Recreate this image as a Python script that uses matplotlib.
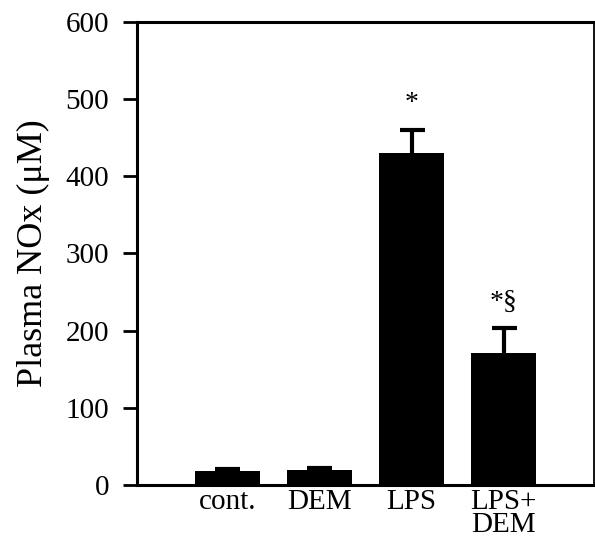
"""Plasma NOx bar chart."""
import matplotlib
matplotlib.use("Agg")
import matplotlib.pyplot as plt

plt.rcParams["font.family"] = ["Liberation Serif", "DejaVu Serif"]

groups = ["cont.", "DEM", "LPS", "LPS+\nDEM"]
nox = [18.5, 19.5, 430, 171]
nox_err = [2.5, 2.5, 30, 32]
marks = ["", "", "*", "*§"]
mark_y = [0, 0, 494, 236]

fig = plt.figure(figsize=(5.95, 5.48), dpi=100)
ax = fig.add_axes([0.2303, 0.115, 0.768, 0.845])

x = list(range(len(groups)))
tops = [v + e for v, e in zip(nox, nox_err)]
ax.vlines(x, nox, tops, color="black", lw=3, zorder=1)
ax.plot(x, tops, ls="none", marker="_", ms=18, mew=3, color="black", zorder=1)
ax.bar(x, nox, width=0.7, color="black", zorder=2)
for xi, m, my in zip(x, marks, mark_y):
    if m:
        ax.text(xi, my, m, ha="center", va="center", fontsize=20)

ax.set_xlim(-0.98, 3.98)
ax.set_ylim(0, 600)
ax.set_yticks(range(0, 601, 100))
ax.set_xticks(x)
ax.set_xticklabels(groups, fontsize=21, linespacing=0.82)
ax.tick_params(axis="x", length=0, pad=3)
ax.tick_params(axis="y", direction="out", length=10, width=2, labelsize=21, pad=10)
ax.set_ylabel("Plasma NOx (μM)", fontsize=26)
ax.yaxis.set_label_coords(-0.19, 0.5)

for side in ["left", "bottom", "top"]:
    ax.spines[side].set_linewidth(2.2)
ax.spines["right"].set_linewidth(1.3)

fig.savefig("out.png", dpi=100)
